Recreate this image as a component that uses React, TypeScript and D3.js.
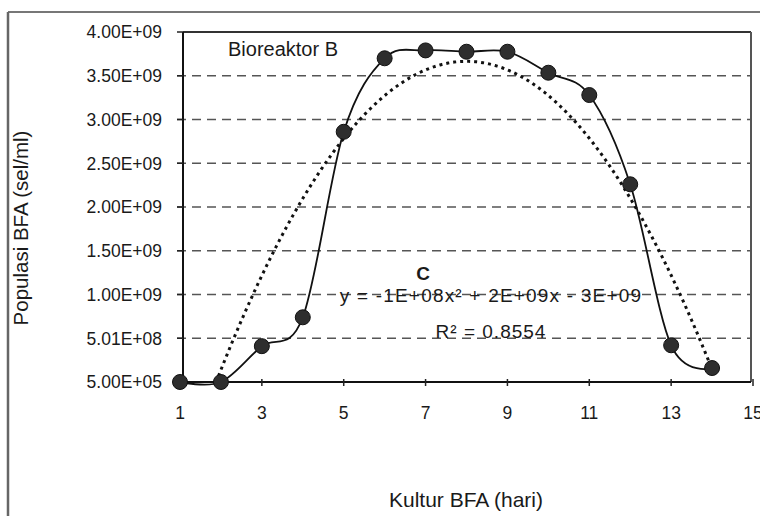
import React from 'react';
import * as d3 from 'd3';

const hari = [1, 2, 3, 4, 5, 6, 7, 8, 9, 10, 11, 12, 13, 14];
const populasi = [5e5, 5e5, 4.1e8, 7.4e8, 2.86e9, 3.7e9, 3.79e9, 3.775e9, 3.775e9, 3.535e9, 3.28e9, 2.26e9, 4.2e8, 1.6e8];
const xTickValues = [1, 3, 5, 7, 9, 11, 13, 15];
const yTickValues = [5e5, 5.005e8, 1.0005e9, 1.5005e9, 2.0005e9, 2.5005e9, 3.0005e9, 3.5005e9, 4.0005e9];
const yTickLabels = ['5.00E+05', '5.01E+08', '1.00E+09', '1.50E+09', '2.00E+09', '2.50E+09', '3.00E+09', '3.50E+09', '4.00E+09'];
const chartLabel = 'Bioreaktor B';
const subLabel = 'C';
const equationText = 'y = -1E+08x² + 2E+09x - 3E+09';
const r2Text = 'R² = 0.8554';
const xTitle = 'Kultur BFA (hari)';
const yTitle = 'Populasi BFA (sel/ml)';

function polyFit2(xs: number[], ys: number[]): number[] {
  const S = [0, 0, 0, 0, 0];
  const T = [0, 0, 0];
  xs.forEach((x, i) => {
    for (let k = 0; k < 5; k++) S[k] += Math.pow(x, k);
    for (let k = 0; k < 3; k++) T[k] += Math.pow(x, k) * ys[i];
  });
  const M = [
    [S[0], S[1], S[2], T[0]],
    [S[1], S[2], S[3], T[1]],
    [S[2], S[3], S[4], T[2]],
  ];
  for (let i = 0; i < 3; i++) {
    for (let j = i + 1; j < 3; j++) {
      const f = M[j][i] / M[i][i];
      for (let k = i; k < 4; k++) M[j][k] -= f * M[i][k];
    }
  }
  const c = [0, 0, 0];
  for (let i = 2; i >= 0; i--) {
    let s = M[i][3];
    for (let k = i + 1; k < 3; k++) s -= M[i][k] * c[k];
    c[i] = s / M[i][i];
  }
  return c;
}

const FONT = "Arial, 'Liberation Sans', sans-serif";

export default function App() {
  const W = 760, H = 516;
  const L = 183, R = 751, T = 32, B = 382;
  const x = d3.scaleLinear().domain([1, 15]).range([180, 753]);
  const y = d3.scaleLinear().domain([5e5, 4.0005e9]).range([B, T]);

  const pts: [number, number][] = hari.map((d, i) => [x(d), y(populasi[i])]);
  const smooth = d3.line().curve(d3.curveCardinal.tension(0))(pts) || '';

  const coef = polyFit2(hari, populasi);
  const trendX = d3.range(hari[0], hari[hari.length - 1] + 0.0001, 0.05);
  const trendPts: [number, number][] = trendX.map((t) => [x(t), y(coef[0] + coef[1] * t + coef[2] * t * t)]);
  const trend = d3.line()(trendPts) || '';

  return (
    <svg width={W} height={H} style={{ position: 'absolute', left: 0, top: 0, background: '#fff' }} fontFamily={FONT}>
      <defs>
        <clipPath id="plotClip">
          <rect x={L} y={T} width={R - L} height={B - T} />
        </clipPath>
      </defs>
      <rect x={0} y={0} width={W} height={H} fill="#fff" />
      {/* outer frame */}
      <line x1={8} y1={12} x2={W} y2={12} stroke="#777" strokeWidth={2} />
      <line x1={8} y1={12} x2={8} y2={H} stroke="#666" strokeWidth={2.5} />

      {/* gridlines */}
      {yTickValues.slice(1, -1).map((v, i) => (
        <line key={'g' + i} x1={177} x2={R} y1={y(v)} y2={y(v)} stroke="#555" strokeWidth={1.6} strokeDasharray="9,6" />
      ))}
      {/* plot border */}
      <line x1={L} y1={T} x2={R} y2={T} stroke="#333" strokeWidth={2} />
      <line x1={R} y1={T} x2={R} y2={B} stroke="#555" strokeWidth={2} />
      {/* axes */}
      <line x1={L} y1={T} x2={L} y2={B} stroke="#111" strokeWidth={2} />
      <line x1={L} y1={B} x2={R} y2={B} stroke="#111" strokeWidth={2} />
      {yTickValues.map((v, i) => (
        <line key={'yt' + i} x1={177} x2={L} y1={y(v)} y2={y(v)} stroke="#222" strokeWidth={1.5} />
      ))}
      {xTickValues.map((v, i) => (
        <line key={'xt' + i} x1={x(v)} x2={x(v)} y1={B - 3} y2={B + 4} stroke="#222" strokeWidth={1.5} />
      ))}

      {/* tick labels */}
      {yTickLabels.map((t, i) => (
        <text key={'yl' + i} x={162} y={y(yTickValues[i])} dy="0.36em" textAnchor="end" fontSize={17.5} fill="#1a1a1a">
          {t}
        </text>
      ))}
      {xTickValues.map((v, i) => (
        <text key={'xl' + i} x={x(v)} y={419} textAnchor="middle" fontSize={17.5} fill="#1a1a1a">
          {v}
        </text>
      ))}

      {/* trendline */}
      <g clipPath="url(#plotClip)">
        <path d={trend} fill="none" stroke="#111" strokeWidth={3} strokeDasharray="3,4" />
      </g>
      {/* data line */}
      <path d={smooth} fill="none" stroke="#111" strokeWidth={1.8} />
      {pts.map((p, i) => (
        <circle key={'c' + i} cx={p[0]} cy={p[1]} r={7.5} fill="#2e2e2e" stroke="#111" strokeWidth={1} />
      ))}

      {/* annotations */}
      <text x={228} y={56} fontSize={20} fill="#1a1a1a">{chartLabel}</text>
      <text x={423} y={280} textAnchor="middle" fontSize={19} fontWeight="bold" fill="#1a1a1a">{subLabel}</text>
      <text x={491} y={302} textAnchor="middle" fontSize={19} letterSpacing={1.2} fill="#1a1a1a">{equationText}</text>
      <text x={491} y={338} textAnchor="middle" fontSize={19} letterSpacing={1} fill="#1a1a1a">{r2Text}</text>

      {/* titles */}
      <text x={466} y={507} textAnchor="middle" fontSize={21} fill="#1a1a1a">{xTitle}</text>
      <text transform="translate(28,228) rotate(-90)" textAnchor="middle" fontSize={20.5} fill="#1a1a1a">{yTitle}</text>
    </svg>
  );
}
